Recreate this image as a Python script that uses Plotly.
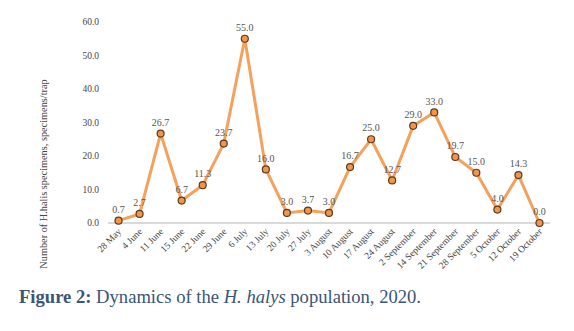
import plotly.graph_objects as go

dates = ["28 May", "4 June", "11 June", "15 June", "22 June", "29 June", "6 July",
         "13 July", "20 July", "27 July", "3 August", "10 August", "17 August",
         "24 August", "2 September", "14 September", "21 September", "28 September",
         "5 October", "12 October", "19 October"]
values = [0.7, 2.7, 26.7, 6.7, 11.3, 23.7, 55.0, 16.0, 3.0, 3.7, 3.0, 16.7, 25.0,
          12.7, 29.0, 33.0, 19.7, 15.0, 4.0, 14.3, 0.0]
y_ticks = [0, 10, 20, 30, 40, 50, 60]

fig = go.Figure()
fig.add_trace(go.Scatter(
    x=dates, y=values, mode="lines+markers+text",
    line=dict(color="#F4A15D", width=3),
    marker=dict(size=7, color="#F0954A", line=dict(color="#5a3a1e", width=1.2)),
    text=[f"{v:.1f}" for v in values], textposition="top center",
    textfont=dict(family="Liberation Serif", size=10, color="#555555"),
    cliponaxis=False, showlegend=False,
))

fig.update_layout(
    width=574, height=331,
    margin=dict(l=108, r=24, t=22, b=108),
    paper_bgcolor="white", plot_bgcolor="white",
    font=dict(family="Liberation Serif", color="#444444"),
    xaxis=dict(type="category", range=[-0.5, len(dates) - 0.5], tickangle=-45,
               tickfont=dict(size=9.5, color="#444444"), showgrid=False,
               showline=False, ticks=""),
    yaxis=dict(range=[0, 60], tickvals=y_ticks, ticktext=[f"{v:.1f}" for v in y_ticks],
               tickfont=dict(size=9.5, color="#444444"), showgrid=False,
               zeroline=True, zerolinecolor="#d9d9d9", zerolinewidth=1.5,
               ticklabelstandoff=8),
    annotations=[
        dict(text="Number of H.halis specimens, specimens/trap", textangle=-90,
             xref="paper", yref="paper", x=-0.145, y=-0.235, xanchor="center",
             yanchor="bottom", showarrow=False,
             font=dict(family="Liberation Serif", size=10.3, color="#444444")),
        dict(text="<b>Figure 2:</b> Dynamics of the <i>H. halys</i> population, 2020.",
             xref="paper", yref="paper", x=-0.207, y=-0.368, xanchor="left",
             yanchor="middle", showarrow=False,
             font=dict(family="Liberation Serif", size=18.6, color="#3b5575")),
    ],
)

fig.write_html("out.html")
